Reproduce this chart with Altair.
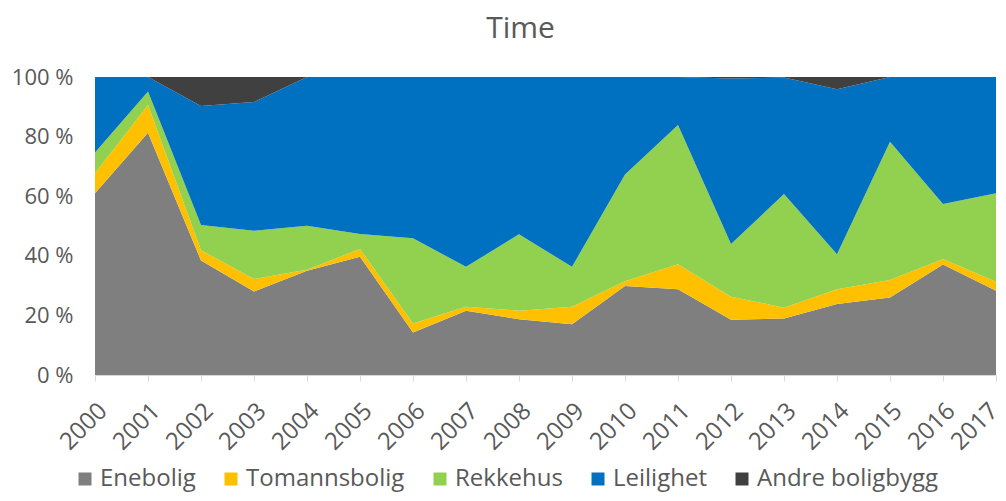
import altair as alt
import pandas as pd

years = [str(y) for y in range(2000, 2018)]
series = ["Enebolig", "Tomannsbolig", "Rekkehus", "Leilighet", "Andre boligbygg"]
colors = ["#7f7f7f", "#ffc000", "#92d050", "#0070c0", "#404040"]

enebolig = [61.0, 81.3, 38.4, 28.0, 35.0, 39.7, 14.3, 21.6, 18.7, 17.0, 29.9, 28.8, 18.5, 19.0, 23.8, 26.0, 37.1, 28.3]
tomannsbolig = [6.7, 9.3, 3.5, 4.2, 0.3, 2.6, 3.0, 1.3, 2.9, 5.9, 1.6, 8.4, 7.8, 3.6, 5.0, 5.9, 1.8, 3.0]
rekkehus = [7.0, 4.5, 8.4, 16.2, 14.8, 5.0, 28.6, 13.4, 25.6, 13.4, 35.8, 46.7, 17.7, 38.1, 11.7, 46.4, 18.5, 29.7]
leilighet = [25.3, 4.9, 40.0, 43.2, 49.9, 52.7, 54.1, 63.7, 52.8, 63.7, 32.7, 16.1, 55.5, 39.1, 55.4, 21.7, 42.6, 39.0]
andre = [0.0, 0.0, 9.7, 8.4, 0.0, 0.0, 0.0, 0.0, 0.0, 0.0, 0.0, 0.0, 0.5, 0.2, 4.1, 0.0, 0.0, 0.0]

values = [enebolig, tomannsbolig, rekkehus, leilighet, andre]
rows = []
for si, (name, vals) in enumerate(zip(series, values)):
    for y, v in zip(years, vals):
        rows.append({"year": y, "type": name, "value": v, "order": si})
df = pd.DataFrame(rows)

FONT = "Open Sans"
TXT = "#595959"

chart = alt.Chart(df).mark_area().encode(
    x=alt.X("year:O", scale=alt.Scale(padding=0), axis=alt.Axis(
        title=None, labelAngle=-45, labelFontSize=24, labelColor=TXT, labelFont=FONT,
        domainColor="#d9d9d9", tickColor="#d9d9d9", tickSize=6, labelPadding=26,
        labelOffset={"condition": {"test": "datum.value == '2017'", "value": -2}, "value": 8},
        labelAlign="right", labelBaseline="middle")),
    y=alt.Y("value:Q", stack="normalize", axis=alt.Axis(
        title=None, values=[0, 0.2, 0.4, 0.6, 0.8, 1.0],
        labelExpr="format(datum.value*100, 'd') + ' %'",
        labelFontSize=22, labelColor=TXT, labelFont=FONT, domain=False, ticks=False,
        grid=False, labelPadding=22)),
    color=alt.Color("type:N", scale=alt.Scale(domain=series, range=colors), legend=alt.Legend(
        title=None, orient="none", direction="horizontal", legendX=-22, legendY=390,
        symbolType="square", symbolSize=169, symbolStrokeWidth=0, labelFontSize=24,
        labelColor=TXT, labelFont=FONT, columnPadding=23, labelOffset=3, padding=0,
        labelLimit=400)),
    order=alt.Order("order:Q", sort="ascending"),
).properties(
    width=901, height=298,
    title=alt.TitleParams("Time", fontSize=30, color=TXT, font=FONT, fontWeight="normal",
                          anchor="middle", dx=-25, offset=22),
    autosize=alt.AutoSizeParams(type="none"),
    padding={"left": 87, "top": 69, "right": 2, "bottom": 118},
).configure_view(stroke=None)

chart.save("out.html", embed_options={"renderer": "svg", "actions": False})
